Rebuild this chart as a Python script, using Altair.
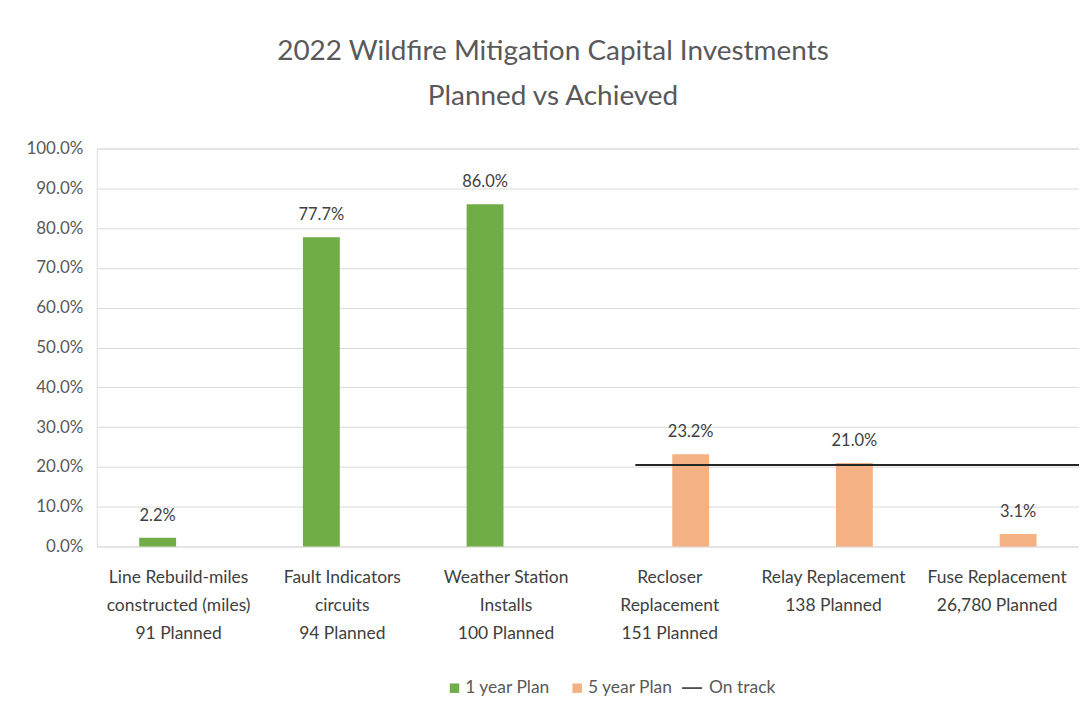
import altair as alt
import pandas as pd

categories = [
    "Line Rebuild-miles|constructed (miles)|91 Planned",
    "Fault Indicators|circuits|94 Planned",
    "Weather Station|Installs|100 Planned",
    "Recloser|Replacement|151 Planned",
    "Relay Replacement|138 Planned",
    "Fuse Replacement|26,780 Planned",
]
plans = ["1 year Plan", "1 year Plan", "1 year Plan", "5 year Plan", "5 year Plan", "5 year Plan"]
achieved = [0.022, 0.777, 0.860, 0.232, 0.210, 0.031]
plan_names = ["1 year Plan", "5 year Plan"]
plan_colors = ["#70AD47", "#F4B183"]

ontrack_start = [3.29]
ontrack_end = [6.0]
ontrack_value = [0.205]
ontrack_name = ["On track"]

y_ticks = [0.0, 0.1, 0.2, 0.3, 0.4, 0.5, 0.6, 0.7, 0.8, 0.9, 1.0]

bars_df = pd.DataFrame({"cat": categories, "plan": plans, "value": achieved})
line_df = pd.DataFrame({"start": ontrack_start, "end": ontrack_end,
                        "value": ontrack_value, "series": ontrack_name})

FONT = "Lato"

x_scale = alt.Scale(paddingInner=0.488, paddingOuter=0.244)
x_enc = alt.X("cat:N", sort=categories, title=None, scale=x_scale,
              axis=alt.Axis(labelExpr="split(datum.label, '|')", labelAngle=0,
                            labelFontSize=17.5, labelColor="#404040", labelFont=FONT,
                            labelLineHeight=28, labelPadding=22, ticks=False,
                            domain=False, labelBaseline="top", labelLimit=300))
x_enc_noaxis = alt.X("cat:N", sort=categories, title=None, scale=x_scale, axis=None)
y_axis = alt.Axis(values=y_ticks, format=".1%", labelFontSize=17,
                  labelColor="#595959", labelFont=FONT, labelPadding=14,
                  ticks=False, domain=False, gridColor="#D9D9D9",
                  gridWidth=1, labelOverlap=False)
y_enc = alt.Y("value:Q", title=None,
              scale=alt.Scale(domain=[0, 1], nice=False, zero=True), axis=y_axis)
xoff = alt.XOffset("plan:N", scale=alt.Scale(domain=plan_names, paddingInner=0.12,
                                             paddingOuter=0.06))

bars = alt.Chart(bars_df).mark_bar().encode(
    x=x_enc, y=y_enc, xOffset=xoff,
    color=alt.Color("plan:N", scale=alt.Scale(domain=plan_names, range=plan_colors),
                    legend=alt.Legend(title=None, orient="none", legendX=350, legendY=532,
                                      direction="horizontal", symbolType="square",
                                      symbolSize=90, labelFontSize=17.5, labelFont=FONT,
                                      labelColor="#595959", columnPadding=18,
                                      labelOffset=2, padding=0, symbolStrokeWidth=0)),
)

labels = alt.Chart(bars_df).mark_text(dy=-17, baseline="alphabetic", fontSize=16.5,
                                      color="#404040", font=FONT).encode(
    x=x_enc_noaxis, y=y_enc, xOffset=xoff,
    text=alt.Text("value:Q", format=".1%"),
)

rule = alt.Chart(line_df).mark_rule(strokeWidth=2).encode(
    x=alt.X("start:Q", scale=alt.Scale(domain=[0, 6], nice=False), axis=None),
    x2="end:Q",
    y=y_enc,
    stroke=alt.Stroke("series:N", scale=alt.Scale(domain=ontrack_name, range=["#262626"]),
                      legend=alt.Legend(title=None, orient="none", legendX=586, legendY=530,
                                        symbolType="stroke", symbolSize=400,
                                        symbolStrokeWidth=1.5, labelFontSize=17.5,
                                        labelFont=FONT, labelColor="#595959",
                                        labelOffset=6, padding=0)),
)

chart = alt.layer(bars, labels, rule).resolve_scale(
    x="independent"
).properties(
    width=985, height=399,
    title=alt.TitleParams(["2022 Wildfire Mitigation Capital Investments", "Planned vs Achieved"],
                          fontSize=28, font=FONT, color="#595959", fontWeight="normal",
                          lineHeight=45, offset=29, dx=-35, anchor="middle"),
    autosize=alt.AutoSizeParams(type="none"),
    padding={"left": 89, "top": 140, "right": 0, "bottom": 150},
).configure_view(stroke=None).configure(background="white")

chart.save("out.html", embed_options={"renderer": "svg", "actions": False})
